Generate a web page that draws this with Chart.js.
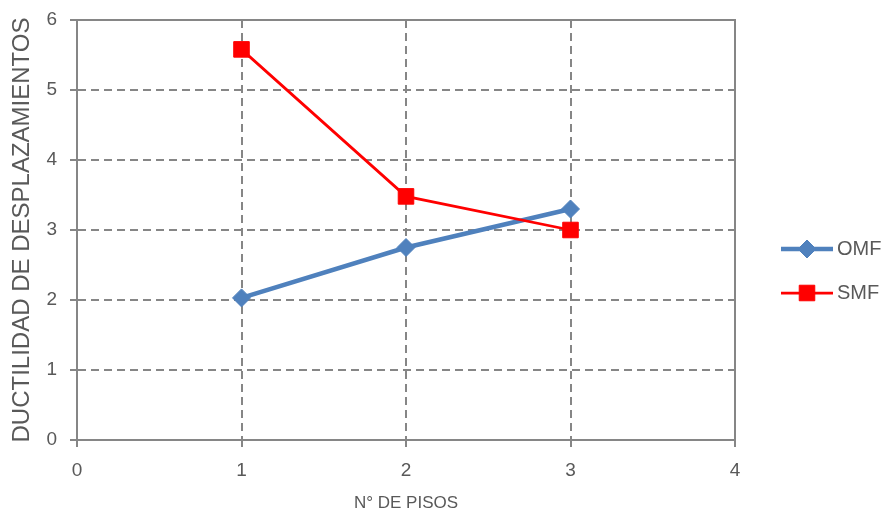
<!DOCTYPE html>
<html>
<head>
<meta charset="utf-8">
<script src="https://cdn.jsdelivr.net/npm/chart.js@4/dist/chart.umd.min.js"></script>
<style>
  html, body { margin: 0; padding: 0; background: #fff; }
  #wrap { width: 884px; height: 515px; position: relative; }
</style>
</head>
<body>
<div id="wrap"><canvas id="c" width="884" height="515"></canvas></div>
<script>
const pisos = [1, 2, 3];
const omf = [2.03, 2.75, 3.30];
const smf = [5.58, 3.48, 3.00];
const seriesNames = ['OMF', 'SMF'];
const xTitle = 'N° DE PISOS';
const yTitle = 'DUCTILIDAD DE DESPLAZAMIENTOS';

const FONT = '"Liberation Sans", Arial, sans-serif';
const TEXT = '#595959';
const GRID = '#868686';

const toPts = (xs, ys) => xs.map((x, i) => ({ x: x, y: ys[i] }));

const frame = {
  id: 'frame',
  afterDraw(chart) {
    const { ctx, chartArea: a } = chart;
    ctx.save();
    ctx.strokeStyle = GRID;
    ctx.lineWidth = 2;
    ctx.setLineDash([]);
    ctx.beginPath();
    ctx.moveTo(a.left, a.top);
    ctx.lineTo(a.right, a.top);
    ctx.lineTo(a.right, a.bottom);
    ctx.stroke();
    ctx.restore();
  }
};

const sideLegend = {
  id: 'sideLegend',
  afterDraw(chart) {
    const ctx = chart.ctx;
    const x0 = 781, x1 = 833, tx = 837;
    const ys = [249, 293];
    chart.data.datasets.forEach((ds, i) => {
      const y = ys[i];
      ctx.save();
      ctx.strokeStyle = ds.borderColor;
      ctx.lineWidth = ds.borderWidth;
      ctx.beginPath();
      ctx.moveTo(x0, y);
      ctx.lineTo(x1, y);
      ctx.stroke();
      ctx.restore();
      ctx.save();
      ctx.fillStyle = ds.pointBackgroundColor;
      ctx.strokeStyle = ds.pointBackgroundColor;
      Chart.helpers.drawPoint(ctx, {
        pointStyle: ds.pointStyle,
        radius: ds.pointRadius,
        borderWidth: 1
      }, (x0 + x1) / 2, y);
      ctx.fillStyle = TEXT;
      ctx.font = '20px ' + FONT;
      ctx.textBaseline = 'middle';
      ctx.textAlign = 'left';
      ctx.fillText(ds.label, tx, y);
      ctx.restore();
    });
  }
};

new Chart(document.getElementById('c'), {
  type: 'scatter',
  data: {
    datasets: [
      {
        label: seriesNames[0],
        data: toPts(pisos, omf),
        showLine: true,
        borderColor: '#4F81BD',
        backgroundColor: '#4F81BD',
        pointBackgroundColor: '#4F81BD',
        pointBorderColor: '#4F81BD',
        borderWidth: 4.5,
        pointStyle: 'rectRot',
        pointRadius: 9,
        pointBorderWidth: 1,
        order: 2
      },
      {
        label: seriesNames[1],
        data: toPts(pisos, smf),
        showLine: true,
        borderColor: '#FF0000',
        backgroundColor: '#FF0000',
        pointBackgroundColor: '#FF0000',
        pointBorderColor: '#FF0000',
        borderWidth: 2.75,
        pointStyle: 'rect',
        pointRadius: 11,
        pointBorderWidth: 1,
        order: 1
      }
    ]
  },
  options: {
    responsive: false,
    animation: false,
    layout: { padding: { top: 20, right: 149, left: 0, bottom: 0 } },
    plugins: { legend: { display: false }, tooltip: { enabled: false } },
    scales: {
      x: {
        type: 'linear',
        min: 0, max: 4,
        afterFit(s) { s.height = 75; s.paddingLeft = 0; s.paddingRight = 0; },
        ticks: { stepSize: 1, padding: 12, color: TEXT, font: { family: FONT, size: 19 } },
        grid: {
          color: c => (c.tick && (c.tick.value === 0 || c.tick.value === 4)) ? 'rgba(0,0,0,0)' : GRID,
          lineWidth: 2,
          tickColor: GRID,
          tickLength: 7,
          tickWidth: 2
        },
        border: { color: GRID, width: 2, dash: [8, 5] },
        title: { display: true, text: xTitle, color: TEXT, font: { family: FONT, size: 17 }, padding: { bottom: 1, top: 0 } }
      },
      y: {
        type: 'linear',
        min: 0, max: 6,
        afterFit(s) { s.width = 77; s.paddingTop = 0; s.paddingBottom = 0; },
        ticks: { stepSize: 1, padding: 13, color: TEXT, font: { family: FONT, size: 19 } },
        grid: {
          color: c => (c.tick && (c.tick.value === 0 || c.tick.value === 6)) ? 'rgba(0,0,0,0)' : GRID,
          lineWidth: 2,
          tickColor: GRID,
          tickLength: 7,
          tickWidth: 2
        },
        border: { color: GRID, width: 2, dash: [8, 5] },
        title: { display: true, text: yTitle, color: TEXT, font: { family: FONT, size: 24 }, padding: { top: 8, bottom: 0 } }
      }
    }
  },
  plugins: [frame, sideLegend]
});
</script>
</body>
</html>
